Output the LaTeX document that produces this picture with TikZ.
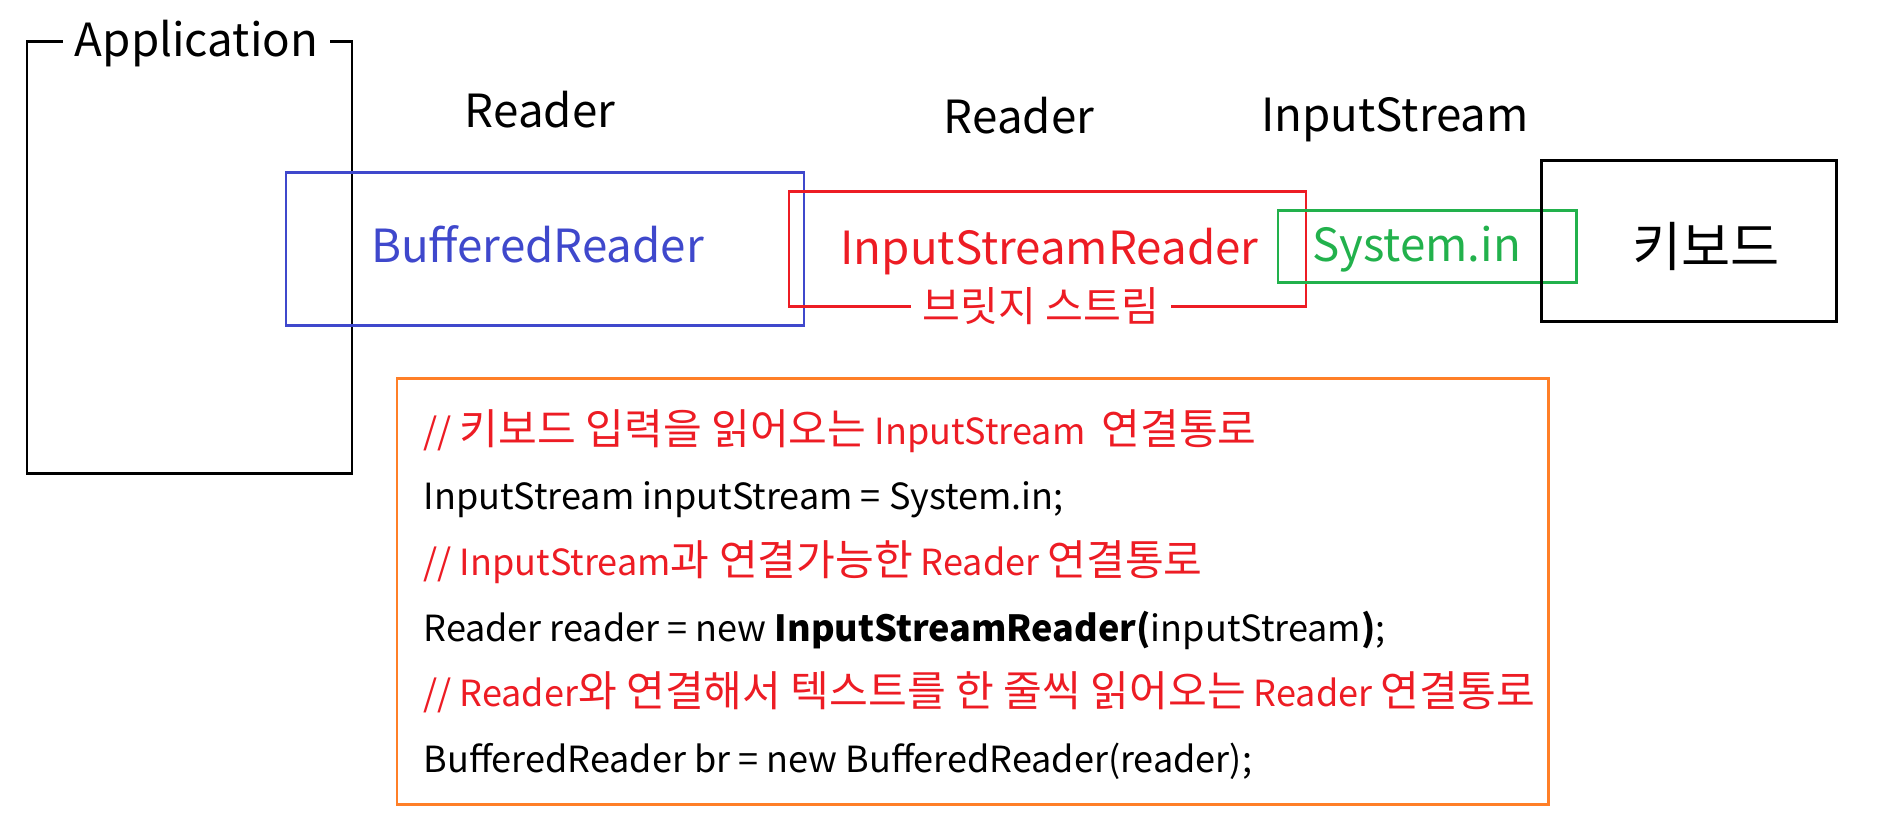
\documentclass[tikz,border=0pt]{standalone}
\usepackage{fontspec}
\setmainfont{Noto Sans CJK KR}
\newfontfamily\krfont{Noto Sans CJK KR}[Scale=1.17]
\newcommand\kr[1]{{\krfont #1}}
\usepackage{tikz}
\usetikzlibrary{positioning}
\definecolor{pblue}{HTML}{3F48CC}
\definecolor{pred}{HTML}{ED1C24}
\definecolor{pgreen}{HTML}{22B14C}
\definecolor{porange}{HTML}{FF7F27}

\begin{document}
\begin{tikzpicture}[line width=0.85pt,
  big/.style={font=\fontsize{13}{16}\selectfont, inner sep=0pt, anchor=base},
  code/.style={anchor=base west, inner sep=0pt, font=\fontsize{10.25}{13}\selectfont}]
 \useasboundingbox (0,0) rectangle (18.98,8.40);
 % application frame
 \draw (0.27,3.66) rectangle (3.52,7.98);
 \node[big, fill=white, inner xsep=3.4pt] (app) at (1.965,7.83) {Application};
 % stream boxes
 \draw[pblue] (2.86,5.14) rectangle (8.04,6.67);
 \draw[pred] (7.89,5.33) rectangle (13.06,6.48);
 \draw[pgreen] (12.78,5.57) rectangle (15.76,6.29);
 \draw (15.41,5.18) rectangle (18.36,6.79);
 \node[big] (rd1) at (5.40,7.12) {Reader};
 \node[big] (rd2) at (10.19,7.06) {Reader};
 \node[big] (ins) at (13.95,7.08) {InputStream};
 \node[big, pblue] (buf) at (5.375,5.77) {BufferedReader};
 \node[big, pred] (isr) at (10.495,5.75) {InputStreamReader};
 \node[pred, fill=white, inner ysep=0pt, inner xsep=3.5pt, font=\fontsize{10}{12}\selectfont] (bridge) at (10.41,5.34) {\kr{브릿지 스트림}};
 \node[big, pgreen] (sys) at (14.165,5.78) {System.in};
 \node[inner sep=0pt, font=\fontsize{13}{16}\selectfont] (kbd) at (17.06,5.94) {\kr{키보드}};
 % code sample
 \draw[porange] (3.97,0.35) rectangle (15.48,4.61);
 \node[code, pred] (c1) at (4.22,3.95) {// \kr{키보드 입력을 읽어오는} InputStream~ \kr{연결통로}};
 \node[code] (c2) at (4.22,3.30) {InputStream inputStream = System.in;};
 \node[code, pred] (c3) at (4.22,2.64) {// InputStream\kr{과 연결가능한} Reader \kr{연결통로}};
 \node[code] (c4) at (4.22,1.98) {Reader reader = new \textbf{InputStreamReader(}inputStream\textbf{)};};
 \node[code, pred] (c5) at (4.22,1.33) {// Reader\kr{와 연결해서 텍스트를 한 줄씩 읽어오는} Reader \kr{연결통로}};
 \node[code] (c6) at (4.22,0.67) {BufferedReader br = new BufferedReader(reader);};
\end{tikzpicture}
\end{document}
